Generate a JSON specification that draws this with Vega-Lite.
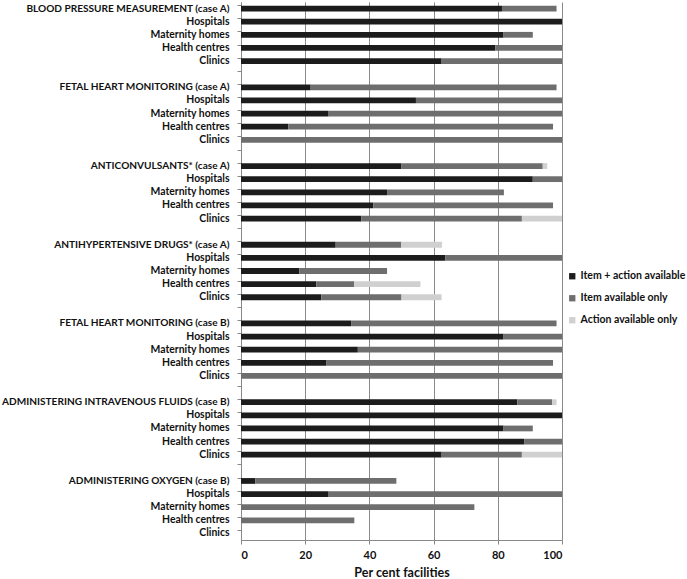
{
  "$schema": "https://vega.github.io/schema/vega-lite/v6.json",
  "autosize": "none",
  "width": 321,
  "height": 538,
  "padding": {"left": 241, "top": 2, "right": 125, "bottom": 39},
  "background": "white",
  "config": {
    "view": {"stroke": null},
    "font": "Lato"
  },
  "data": {
    "values": [
      {"row": "1h|BLOOD PRESSURE MEASUREMENT (case A)", "type": "Item + action available", "k": 1, "v": 81.3},
      {"row": "1h|BLOOD PRESSURE MEASUREMENT (case A)", "type": "Item available only", "k": 2, "v": 17.0},
      {"row": "1a|Hospitals", "type": "Item + action available", "k": 1, "v": 100},
      {"row": "1b|Maternity homes", "type": "Item + action available", "k": 1, "v": 81.8},
      {"row": "1b|Maternity homes", "type": "Item available only", "k": 2, "v": 9.1},
      {"row": "1c|Health centres", "type": "Item + action available", "k": 1, "v": 79.2},
      {"row": "1c|Health centres", "type": "Item available only", "k": 2, "v": 20.8},
      {"row": "1d|Clinics", "type": "Item + action available", "k": 1, "v": 62.5},
      {"row": "1d|Clinics", "type": "Item available only", "k": 2, "v": 37.5},

      {"row": "2h|FETAL HEART MONITORING (case A)", "type": "Item + action available", "k": 1, "v": 21.7},
      {"row": "2h|FETAL HEART MONITORING (case A)", "type": "Item available only", "k": 2, "v": 76.6},
      {"row": "2a|Hospitals", "type": "Item + action available", "k": 1, "v": 54.5},
      {"row": "2a|Hospitals", "type": "Item available only", "k": 2, "v": 45.5},
      {"row": "2b|Maternity homes", "type": "Item + action available", "k": 1, "v": 27.3},
      {"row": "2b|Maternity homes", "type": "Item available only", "k": 2, "v": 72.7},
      {"row": "2c|Health centres", "type": "Item + action available", "k": 1, "v": 14.7},
      {"row": "2c|Health centres", "type": "Item available only", "k": 2, "v": 82.5},
      {"row": "2d|Clinics", "type": "Item available only", "k": 2, "v": 100},

      {"row": "3h|ANTICONVULSANTS* (case A)", "type": "Item + action available", "k": 1, "v": 50.0},
      {"row": "3h|ANTICONVULSANTS* (case A)", "type": "Item available only", "k": 2, "v": 44.0},
      {"row": "3h|ANTICONVULSANTS* (case A)", "type": "Action available only", "k": 3, "v": 1.4},
      {"row": "3a|Hospitals", "type": "Item + action available", "k": 1, "v": 90.9},
      {"row": "3a|Hospitals", "type": "Item available only", "k": 2, "v": 9.1},
      {"row": "3b|Maternity homes", "type": "Item + action available", "k": 1, "v": 45.5},
      {"row": "3b|Maternity homes", "type": "Item available only", "k": 2, "v": 36.4},
      {"row": "3c|Health centres", "type": "Item + action available", "k": 1, "v": 41.2},
      {"row": "3c|Health centres", "type": "Item available only", "k": 2, "v": 56.0},
      {"row": "3d|Clinics", "type": "Item + action available", "k": 1, "v": 37.5},
      {"row": "3d|Clinics", "type": "Item available only", "k": 2, "v": 50.0},
      {"row": "3d|Clinics", "type": "Action available only", "k": 3, "v": 12.5},

      {"row": "4h|ANTIHYPERTENSIVE DRUGS* (case A)", "type": "Item + action available", "k": 1, "v": 29.5},
      {"row": "4h|ANTIHYPERTENSIVE DRUGS* (case A)", "type": "Item available only", "k": 2, "v": 20.4},
      {"row": "4h|ANTIHYPERTENSIVE DRUGS* (case A)", "type": "Action available only", "k": 3, "v": 12.7},
      {"row": "4a|Hospitals", "type": "Item + action available", "k": 1, "v": 63.6},
      {"row": "4a|Hospitals", "type": "Item available only", "k": 2, "v": 36.4},
      {"row": "4b|Maternity homes", "type": "Item + action available", "k": 1, "v": 18.2},
      {"row": "4b|Maternity homes", "type": "Item available only", "k": 2, "v": 27.3},
      {"row": "4c|Health centres", "type": "Item + action available", "k": 1, "v": 23.5},
      {"row": "4c|Health centres", "type": "Item available only", "k": 2, "v": 11.8},
      {"row": "4c|Health centres", "type": "Action available only", "k": 3, "v": 20.6},
      {"row": "4d|Clinics", "type": "Item + action available", "k": 1, "v": 25.0},
      {"row": "4d|Clinics", "type": "Item available only", "k": 2, "v": 25.0},
      {"row": "4d|Clinics", "type": "Action available only", "k": 3, "v": 12.5},

      {"row": "5h|FETAL HEART MONITORING (case B)", "type": "Item + action available", "k": 1, "v": 34.3},
      {"row": "5h|FETAL HEART MONITORING (case B)", "type": "Item available only", "k": 2, "v": 64.0},
      {"row": "5a|Hospitals", "type": "Item + action available", "k": 1, "v": 81.8},
      {"row": "5a|Hospitals", "type": "Item available only", "k": 2, "v": 18.2},
      {"row": "5b|Maternity homes", "type": "Item + action available", "k": 1, "v": 36.4},
      {"row": "5b|Maternity homes", "type": "Item available only", "k": 2, "v": 63.6},
      {"row": "5c|Health centres", "type": "Item + action available", "k": 1, "v": 26.5},
      {"row": "5c|Health centres", "type": "Item available only", "k": 2, "v": 70.7},
      {"row": "5d|Clinics", "type": "Item available only", "k": 2, "v": 100},

      {"row": "6h|ADMINISTERING INTRAVENOUS FLUIDS (case B)", "type": "Item + action available", "k": 1, "v": 86.1},
      {"row": "6h|ADMINISTERING INTRAVENOUS FLUIDS (case B)", "type": "Item available only", "k": 2, "v": 10.8},
      {"row": "6h|ADMINISTERING INTRAVENOUS FLUIDS (case B)", "type": "Action available only", "k": 3, "v": 1.4},
      {"row": "6a|Hospitals", "type": "Item + action available", "k": 1, "v": 100},
      {"row": "6b|Maternity homes", "type": "Item + action available", "k": 1, "v": 81.8},
      {"row": "6b|Maternity homes", "type": "Item available only", "k": 2, "v": 9.1},
      {"row": "6c|Health centres", "type": "Item + action available", "k": 1, "v": 88.2},
      {"row": "6c|Health centres", "type": "Item available only", "k": 2, "v": 11.8},
      {"row": "6d|Clinics", "type": "Item + action available", "k": 1, "v": 62.5},
      {"row": "6d|Clinics", "type": "Item available only", "k": 2, "v": 25.0},
      {"row": "6d|Clinics", "type": "Action available only", "k": 3, "v": 12.5},

      {"row": "7h|ADMINISTERING OXYGEN (case B)", "type": "Item + action available", "k": 1, "v": 4.5},
      {"row": "7h|ADMINISTERING OXYGEN (case B)", "type": "Item available only", "k": 2, "v": 43.9},
      {"row": "7a|Hospitals", "type": "Item + action available", "k": 1, "v": 27.3},
      {"row": "7a|Hospitals", "type": "Item available only", "k": 2, "v": 72.7},
      {"row": "7b|Maternity homes", "type": "Item available only", "k": 2, "v": 72.7},
      {"row": "7c|Health centres", "type": "Item available only", "k": 2, "v": 35.3}
    ]
  },
  "mark": {"type": "bar"},
  "encoding": {
    "y": {
      "field": "row",
      "type": "nominal",
      "scale": {
        "domain": [
          "1h|BLOOD PRESSURE MEASUREMENT (case A)", "1a|Hospitals", "1b|Maternity homes", "1c|Health centres", "1d|Clinics", "1e|",
          "2h|FETAL HEART MONITORING (case A)", "2a|Hospitals", "2b|Maternity homes", "2c|Health centres", "2d|Clinics", "2e|",
          "3h|ANTICONVULSANTS* (case A)", "3a|Hospitals", "3b|Maternity homes", "3c|Health centres", "3d|Clinics", "3e|",
          "4h|ANTIHYPERTENSIVE DRUGS* (case A)", "4a|Hospitals", "4b|Maternity homes", "4c|Health centres", "4d|Clinics", "4e|",
          "5h|FETAL HEART MONITORING (case B)", "5a|Hospitals", "5b|Maternity homes", "5c|Health centres", "5d|Clinics", "5e|",
          "6h|ADMINISTERING INTRAVENOUS FLUIDS (case B)", "6a|Hospitals", "6b|Maternity homes", "6c|Health centres", "6d|Clinics", "6e|",
          "7h|ADMINISTERING OXYGEN (case B)", "7a|Hospitals", "7b|Maternity homes", "7c|Health centres", "7d|Clinics"
        ],
        "paddingInner": 0.56,
        "paddingOuter": 0.28
      },
      "axis": {
        "title": null,
        "labelExpr": "split(datum.label, '|')[1]",
        "labelFont": "Lato",
        "labelFontWeight": "bold",
        "labelFontSize": {"condition": {"test": "indexof(datum.value, 'h|') == 1", "value": 10.1}, "value": 10.4},
        "labelColor": "#111111",
        "labelPadding": 8,
        "labelLimit": 260,
        "bandPosition": 0,
        "tickColor": "#888888",
        "tickSize": 4,
        "domainColor": "#888888",
        "grid": false
      }
    },
    "x": {
      "field": "v",
      "type": "quantitative",
      "stack": "zero",
      "scale": {"domain": [0, 100], "nice": false},
      "axis": {
        "title": "Per cent facilities",
        "titleFont": "Lato",
        "titleFontWeight": "bold",
        "titleFontSize": 12.5,
        "titleColor": "#111111",
        "titlePadding": 6,
        "values": [0, 20, 40, 60, 80, 100],
        "labelFont": "Lato",
        "labelFontWeight": "bold",
        "labelFontSize": 11,
        "labelColor": "#111111",
        "labelPadding": 5,
        "grid": true,
        "gridColor": "#8a8a8a",
        "gridWidth": 1,
        "tickColor": "#888888",
        "tickSize": 4,
        "domainColor": "#888888"
      }
    },
    "color": {
      "field": "type",
      "type": "nominal",
      "scale": {
        "domain": ["Item + action available", "Item available only", "Action available only"],
        "range": ["#1c1c1c", "#6e6e6e", "#d0d0d0"]
      },
      "legend": {
        "title": null,
        "orient": "none",
        "legendX": 326,
        "legendY": 269,
        "symbolType": "square",
        "symbolSize": 40,
        "symbolStrokeWidth": 0,
        "labelFont": "Lato",
        "labelFontWeight": "bold",
        "labelFontSize": 10.5,
        "labelColor": "#111111",
        "labelOffset": 3,
        "rowPadding": 11
      }
    },
    "order": {"field": "k", "type": "quantitative"}
  }
}
